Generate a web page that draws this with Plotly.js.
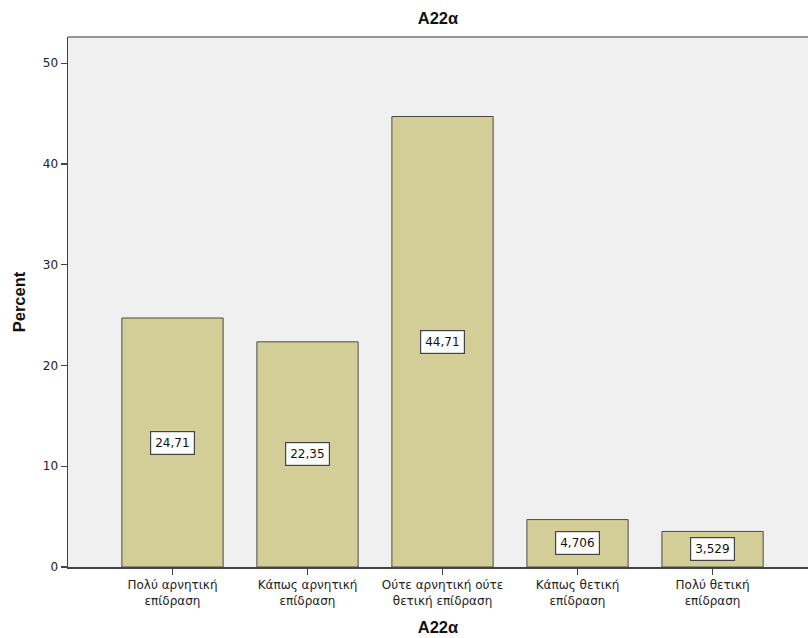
<!DOCTYPE html>
<html>
<head>
<meta charset="utf-8">
<script src="https://cdn.plot.ly/plotly-3.0.1.min.js"></script>
<style>html,body{margin:0;padding:0;background:#fff;}#chart{width:808px;height:638px;}</style>
</head>
<body>
<div id="chart"></div>
<script>
const categories = [
  "Πολύ αρνητική<br>επίδραση",
  "Κάπως αρνητική<br>επίδραση",
  "Ούτε αρνητική ούτε<br>θετική επίδραση",
  "Κάπως θετική<br>επίδραση",
  "Πολύ θετική<br>επίδραση"
];
const percents = [24.71, 22.35, 44.71, 4.706, 3.529];
const valueLabels = ["24,71", "22,35", "44,71", "4,706", "3,529"];
const yTicks = [0, 10, 20, 30, 40, 50];

const FONT = 'Liberation Sans, Arial, sans-serif';
const TICKFONT = 'DejaVu Sans, Arial, sans-serif';

const trace = {
  type: 'bar',
  x: [0, 1, 2, 3, 4],
  y: percents,
  width: 0.75,
  marker: {color: '#d3ce97', line: {color: '#4a4a4a', width: 1}},
  hoverinfo: 'none'
};

const annotations = percents.map((v, i) => ({
  x: i, y: v / 2, xref: 'x', yref: 'y',
  text: valueLabels[i], showarrow: false,
  font: {family: TICKFONT, size: 12, color: '#111'},
  bgcolor: '#ffffff', bordercolor: '#444', borderwidth: 1.2, borderpad: 4
}));

const layout = {
  width: 808, height: 638,
  margin: {l: 68, r: 0, t: 37, b: 71},
  paper_bgcolor: '#ffffff',
  plot_bgcolor: '#f0f0f0',
  showlegend: false,
  title: {
    text: '<b>A22α</b>',
    font: {family: FONT, size: 16.5, color: '#111'},
    x: 0.5, xanchor: 'center', xref: 'paper',
    y: 1 - 18/638, yref: 'container', yanchor: 'middle'
  },
  xaxis: {
    range: [-0.774, 4.707],
    tickvals: [0, 1, 2, 3, 4],
    ticktext: categories,
    ticks: 'outside', ticklen: 6, tickcolor: '#444', tickwidth: 1.2,
    showline: true, linecolor: '#444', linewidth: 1.5,
    showgrid: false, zeroline: false,
    tickfont: {family: TICKFONT, size: 12, color: '#222'},
    title: {
      text: '<b>A22α</b>',
      font: {family: FONT, size: 16.5, color: '#111'},
      standoff: 15
    },
    fixedrange: true
  },
  yaxis: {
    range: [0, 52.6],
    tickvals: yTicks,
    ticktext: yTicks.map(String),
    ticks: 'outside', ticklen: 6, tickcolor: '#444', tickwidth: 1.2,
    showline: true, linecolor: '#444', linewidth: 1.5,
    showgrid: false, zeroline: false,
    tickfont: {family: TICKFONT, size: 12, color: '#222'},
    title: {
      text: '<b>Percent</b>',
      font: {family: FONT, size: 16.5, color: '#111'},
      standoff: 13
    },
    fixedrange: true
  },
  shapes: [{
    type: 'line', xref: 'paper', yref: 'paper', x0: 0, x1: 1, y0: 1, y1: 1,
    line: {color: '#777', width: 1.5}
  }],
  annotations: annotations
};

Plotly.newPlot('chart', [trace], layout, {displayModeBar: false, staticPlot: true});
</script>
</body>
</html>
